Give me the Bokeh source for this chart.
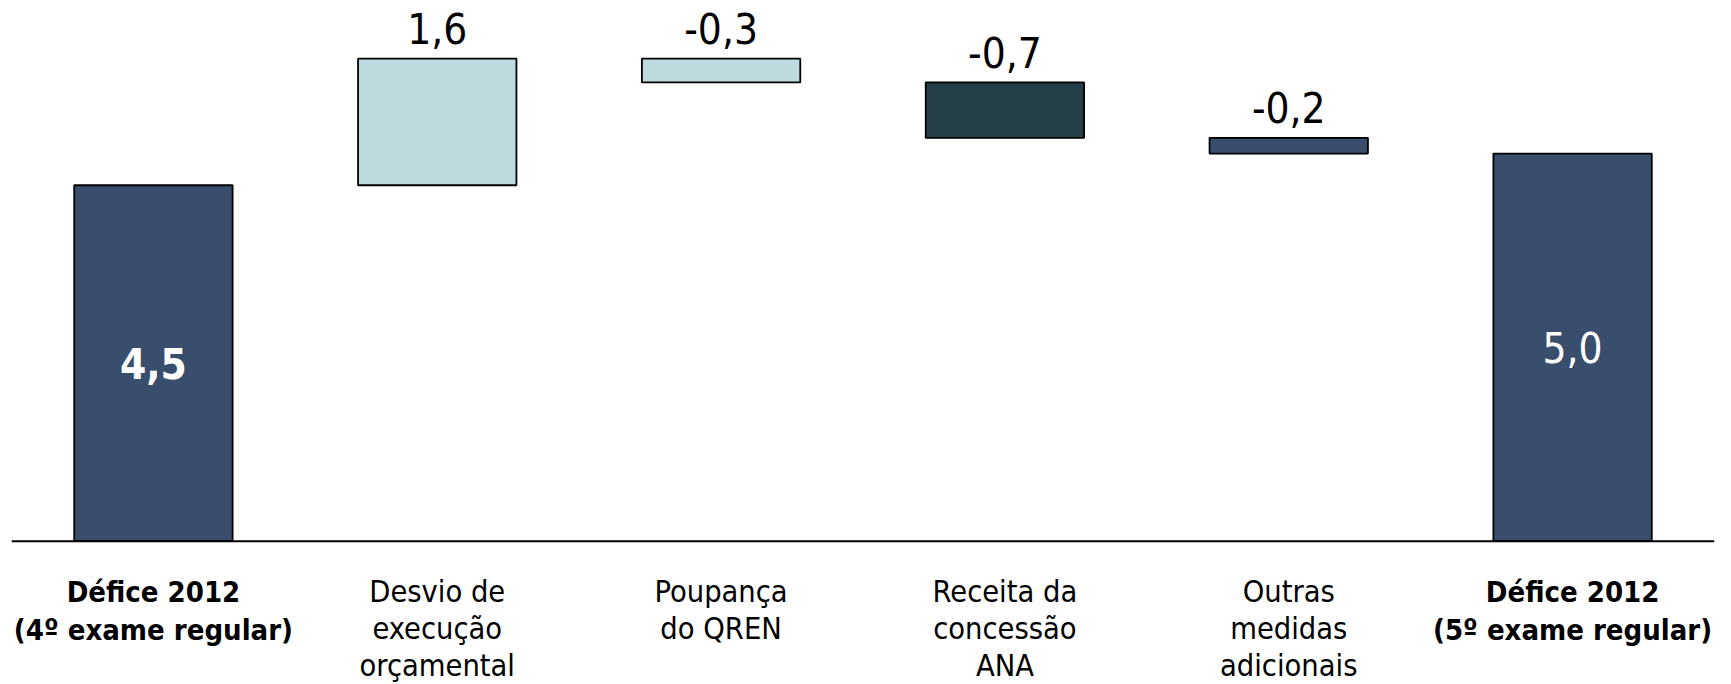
from bokeh.plotting import figure
from bokeh.models import FactorRange, Range1d, Span, ColumnDataSource
from bokeh.core.properties import value, field
from bokeh.embed import file_html
from bokeh.resources import INLINE

# ---- data ----
categories = [
    "Défice 2012\n(4º exame regular)",
    "Desvio de\nexecução\norçamental",
    "Poupança\ndo QREN",
    "Receita da\nconcessão\nANA",
    "Outras\nmedidas\nadicionais",
    "Défice 2012\n(5º exame regular)",
]
start_value = 4.5
changes = [1.6, -0.3, -0.7, -0.2]
value_labels = ["4,5", "1,6", "-0,3", "-0,7", "-0,2", "5,0"]
bar_colors = ["#394e6c", "#bddadf", "#bddadf", "#243f47", "#394e6c", "#394e6c"]
category_styles = ["bold", "normal", "normal", "normal", "normal", "bold"]
total_label_styles = ["bold", "normal"]

# ---- waterfall geometry from the values ----
bottoms, tops = [0.0], [start_value]
level = start_value
for c in changes:
    new = level + c
    bottoms.append(min(level, new))
    tops.append(max(level, new))
    level = new
bottoms.append(0.0)
tops.append(level)

FONT = "DejaVu Sans Condensed, DejaVu Sans"

p = figure(
    x_range=FactorRange(factors=categories, range_padding=0),
    y_range=Range1d(-1.812, 6.836),
    width=1731, height=684,
    min_border_left=11, min_border_right=17, min_border_top=0, min_border_bottom=0,
    x_axis_location=None, y_axis_location=None,
    output_backend="svg", toolbar_location=None,
)
p.outline_line_color = None
p.grid.visible = False
p.background_fill_color = "white"
p.border_fill_color = "white"

bars = ColumnDataSource(dict(x=categories, bottom=bottoms, top=tops, color=bar_colors))
p.vbar(x="x", bottom="bottom", top="top", width=0.558, source=bars,
       fill_color="color", line_color="black", line_width=1.8)

p.add_layout(Span(location=0, dimension="width", line_color="black", line_width=2))

# change labels above bars
chg = ColumnDataSource(dict(x=categories[1:5], y=tops[1:5], t=value_labels[1:5]))
p.text(x="x", y="y", text="t", source=chg, text_align="center",
       text_baseline="alphabetic", y_offset=-30, text_color="black",
       text_font=value(FONT), text_font_size="42px")

# total labels inside bars
tot_idx = [0, 5]
tot = ColumnDataSource(dict(
    x=[categories[i] for i in tot_idx],
    y=[(tops[i] + bottoms[i]) / 2 for i in tot_idx],
    t=[value_labels[i] for i in tot_idx],
    s=total_label_styles,
))
p.text(x="x", y="y", text="t", source=tot, text_align="center",
       text_baseline="middle", text_color="white", text_font_style=field("s"),
       text_font=value(FONT), text_font_size="42px")

# category labels below the axis line
bold_cats = [c for c, s in zip(categories, category_styles) if s == "bold"]
norm_cats = [c for c, s in zip(categories, category_styles) if s != "bold"]
cat_b = ColumnDataSource(dict(x=bold_cats, y=[0.0] * len(bold_cats), t=bold_cats))
cat_n = ColumnDataSource(dict(x=norm_cats, y=[0.0] * len(norm_cats), t=norm_cats))
p.text(x="x", y="y", text="t", source=cat_b, text_align="center",
       text_baseline="top", y_offset=34, text_color="black",
       text_font_style="bold", text_line_height=1.105,
       text_font=value(FONT), text_font_size="29px")
p.text(x="x", y="y", text="t", source=cat_n, text_align="center",
       text_baseline="top", y_offset=33, text_color="black",
       text_font_style="normal", text_line_height=1.051,
       text_font=value(FONT), text_font_size="30.5px")

open("out.html", "w").write(file_html(p, INLINE))
